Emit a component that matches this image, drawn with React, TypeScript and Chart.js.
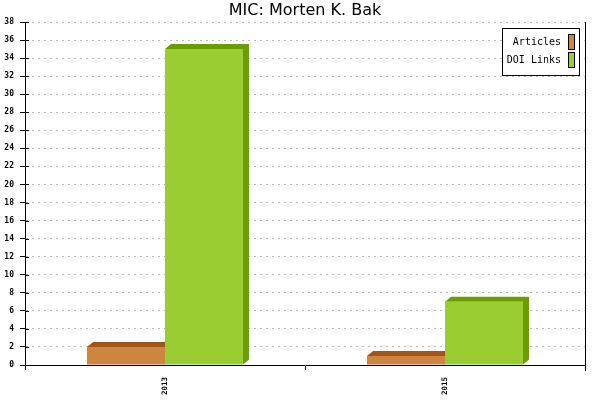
import React, { useEffect, useRef } from "react";
import { Chart, registerables } from "chart.js";

Chart.register(...registerables);

const titleText = "MIC: Morten K. Bak";
const categories = ["2013", "2015"];
const seriesNames = ["Articles", "DOI Links"];
const articles = [2, 1];
const doiLinks = [35, 7];
const yMin = 0;
const yMax = 38;
const yStep = 2;

const FACE = ["#CD853F", "#9ACD32"];
const DARK = ["#A0561A", "#6A9E00"];
const DX = 6;
const DY = 5;

const depthPlugin = {
  id: "depth3d",
  beforeDatasetsDraw(chart: any) {
    const ctx = chart.ctx;
    ctx.save();
    chart.data.datasets.forEach((_d: any, i: number) => {
      const meta = chart.getDatasetMeta(i);
      ctx.fillStyle = DARK[i];
      meta.data.forEach((bar: any) => {
        const { x, y, base, width } = bar.getProps(["x", "y", "base", "width"], true);
        const l = x - width / 2;
        const r = x + width / 2;
        ctx.beginPath();
        ctx.moveTo(l, y);
        ctx.lineTo(l + DX, y - DY);
        ctx.lineTo(r + DX, y - DY);
        ctx.lineTo(r + DX, base - DY);
        ctx.lineTo(r, base);
        ctx.lineTo(r, y);
        ctx.closePath();
        ctx.fill();
      });
    });
    ctx.restore();
  },
};

const decorPlugin = {
  id: "decor",
  afterDraw(chart: any) {
    const ctx = chart.ctx;
    const area = chart.chartArea;
    ctx.save();
    // title
    ctx.fillStyle = "#000";
    ctx.font = "16px 'DejaVu Sans'";
    ctx.textAlign = "center";
    ctx.textBaseline = "middle";
    ctx.fillText(titleText, (area.left + area.right) / 2, 10.5);

    // right border line
    ctx.strokeStyle = "#000";
    ctx.lineWidth = 1;
    const rx = Math.round(area.right) + 0.5;
    ctx.beginPath();
    ctx.moveTo(rx, Math.round(area.top));
    ctx.lineTo(rx, Math.round(area.bottom) + 6);
    ctx.stroke();

    // inner parts of y ticks
    const yScale = chart.scales.y;
    const lx = Math.round(area.left);
    yScale.ticks.forEach((t: any) => {
      const py = Math.round(yScale.getPixelForValue(t.value)) + 0.5;
      ctx.beginPath();
      ctx.moveTo(lx, py);
      ctx.lineTo(lx + 4, py);
      ctx.stroke();
    });

    // legend
    ctx.font = "10px 'DejaVu Sans Mono'";
    const ds = chart.data.datasets;
    let maxW = 0;
    ds.forEach((d: any) => {
      maxW = Math.max(maxW, ctx.measureText(d.label).width);
    });
    const boxRight = Math.round(area.right) - 6;
    const boxTop = Math.round(area.top) + 6;
    const swW = 6;
    const swH = 15;
    const rowH = 17.5;
    const swRight = boxRight - 5;
    const swLeft = swRight - swW;
    const textRight = swLeft - 7;
    const boxLeft = Math.round(textRight - maxW - 5);
    const boxBottom = Math.round(boxTop + 6 + rowH * (ds.length - 1) + swH + 8);
    ctx.fillStyle = "#fff";
    ctx.fillRect(boxLeft, boxTop, boxRight - boxLeft, boxBottom - boxTop);
    ctx.strokeStyle = "#000";
    ctx.strokeRect(boxLeft + 0.5, boxTop + 0.5, boxRight - boxLeft, boxBottom - boxTop);
    ds.forEach((d: any, i: number) => {
      const sy = Math.round(boxTop + 6 + rowH * i);
      ctx.fillStyle = d.backgroundColor;
      ctx.fillRect(swLeft, sy, swW, swH);
      ctx.strokeStyle = "#000";
      ctx.strokeRect(swLeft + 0.5, sy + 0.5, swW, swH);
      ctx.fillStyle = "#000";
      ctx.textAlign = "right";
      ctx.textBaseline = "middle";
      ctx.fillText(d.label, textRight, sy + swH / 2 + 1);
    });
    ctx.restore();
  },
};

export default function App() {
  const ref = useRef<HTMLCanvasElement | null>(null);
  useEffect(() => {
    if (!ref.current) return;
    const chart = new Chart(ref.current, {
      type: "bar",
      data: {
        labels: categories,
        datasets: [
          { label: seriesNames[0], data: articles, backgroundColor: FACE[0], borderWidth: 0 },
          { label: seriesNames[1], data: doiLinks, backgroundColor: FACE[1], borderWidth: 0 },
        ],
      },
      options: {
        animation: false,
        responsive: false,
        devicePixelRatio: 1,
        layout: { padding: { top: 22, right: 15, left: 0, bottom: 0 } },
        datasets: { bar: { categoryPercentage: 0.557, barPercentage: 1 } },
        plugins: {
          legend: { display: false },
          title: { display: false },
          tooltip: { enabled: false },
        },
        scales: {
          x: {
            offset: true,
            grid: {
              display: true,
              drawOnChartArea: false,
              offset: true,
              tickLength: 5,
              color: "#000",
              tickColor: "#000",
            },
            border: { display: true, color: "#000", width: 1 },
            ticks: {
              maxRotation: 90,
              minRotation: 90,
              padding: 7,
              color: "#000",
              font: { family: "'DejaVu Sans Mono'", size: 7.5, weight: "bold" },
            },
            afterFit: (s: any) => {
              s.height = 35;
            },
          },
          y: {
            min: yMin,
            max: yMax,
            ticks: {
              stepSize: yStep,
              padding: 6,
              color: "#000",
              font: { family: "'DejaVu Sans Mono'", size: 8, weight: "bold" },
            },
            grid: {
              color: (c: any) => (c.tick && c.tick.value === 0 ? "rgba(0,0,0,0)" : "#bbbbbb"),
              tickColor: "#000",
              tickLength: 5,
              lineWidth: 1,
            },
            border: { display: true, color: "#000", width: 1, dash: [2, 4] },
            afterFit: (s: any) => {
              s.width = 25;
            },
          },
        },
      },
      plugins: [depthPlugin, decorPlugin],
    });
    return () => chart.destroy();
  }, []);
  return (
    <div style={{ position: "fixed", left: 0, top: 0, width: 600, height: 400, background: "#fff" }}>
      <canvas ref={ref} width={600} height={400} style={{ display: "block" }} />
    </div>
  );
}
